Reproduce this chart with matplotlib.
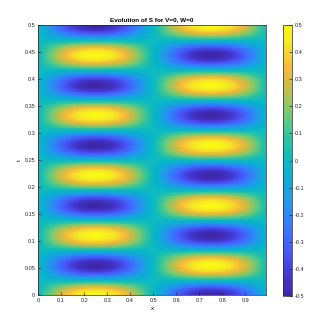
import numpy as np
import matplotlib
matplotlib.use("Agg")
import matplotlib.pyplot as plt
from matplotlib.colors import LinearSegmentedColormap

# datos
x = np.arange(0, 1.0, 0.01)          # eje x: 0 .. 0.99
t = np.linspace(0, 0.5, 201)          # eje t: 0 .. 0.5
amplitud = 0.5
medios_periodos_t = 9                 # 9 medios periodos entre t=0 y t=0.5
periodos_x = 1

x_ticks = [0, 0.1, 0.2, 0.3, 0.4, 0.5, 0.6, 0.7, 0.8, 0.9]
t_ticks = [0, 0.05, 0.1, 0.15, 0.2, 0.25, 0.3, 0.35, 0.4, 0.45, 0.5]
cb_ticks = [-0.5, -0.4, -0.3, -0.2, -0.1, 0, 0.1, 0.2, 0.3, 0.4, 0.5]

X, T = np.meshgrid(x, t)
S = amplitud * np.sin(2 * np.pi * periodos_x * X) * np.cos(np.pi * medios_periodos_t * T / 0.5)

# parula (aprox, version nueva)
parula = LinearSegmentedColormap.from_list("parula", [
    (0.2422, 0.1504, 0.6603), (0.2670, 0.2165, 0.8173), (0.2783, 0.3275, 0.9598),
    (0.2464, 0.4375, 0.9952), (0.1738, 0.5480, 0.9659), (0.1083, 0.6410, 0.8835),
    (0.0238, 0.7073, 0.8128), (0.0890, 0.7473, 0.7108), (0.2681, 0.7820, 0.5807),
    (0.5204, 0.7890, 0.4289), (0.7730, 0.7490, 0.2853), (0.9689, 0.7286, 0.2321),
    (0.9570, 0.8888, 0.1594), (0.9769, 0.9839, 0.0805)], N=256)

plt.rcParams["font.family"] = ["Liberation Sans", "DejaVu Sans"]

fig = plt.figure(figsize=(3.32, 3.32), dpi=100)
ax = fig.add_axes([0.1145, 0.111, 0.687, 0.814])
cax = fig.add_axes([0.852, 0.108, 0.027, 0.817])

malla = ax.pcolormesh(X, T, S, cmap=parula, shading="gouraud", vmin=-0.5, vmax=0.5)
ax.set_xlim(0, 0.99)
ax.set_ylim(0, 0.5)
ax.set_xticks(x_ticks)
ax.set_xticklabels(["{:g}".format(v) for v in x_ticks])
ax.set_yticks(t_ticks)
ax.set_yticklabels(["{:g}".format(v) for v in t_ticks])
ax.tick_params(direction="in", length=2, width=0.5, labelsize=4, pad=2, colors="#262626")
for s in ax.spines.values():
    s.set_linewidth(0.5)
    s.set_color("#262626")
ax.set_xlabel("x", fontsize=4.4, labelpad=2)
ax.set_ylabel("t", fontsize=4.4, labelpad=2)
ax.set_title("Evolution of S for V=0, W=0", fontsize=4.6, fontweight="bold", pad=3)

cb = fig.colorbar(malla, cax=cax)
cb.set_ticks(cb_ticks)
cb.set_ticklabels(["{:g}".format(v) for v in cb_ticks])
cb.ax.tick_params(direction="in", length=2, width=0.5, labelsize=4, pad=2, colors="#262626")
cb.outline.set_linewidth(0.5)
cb.outline.set_edgecolor("#262626")

fig.savefig("out.png", dpi=100)
